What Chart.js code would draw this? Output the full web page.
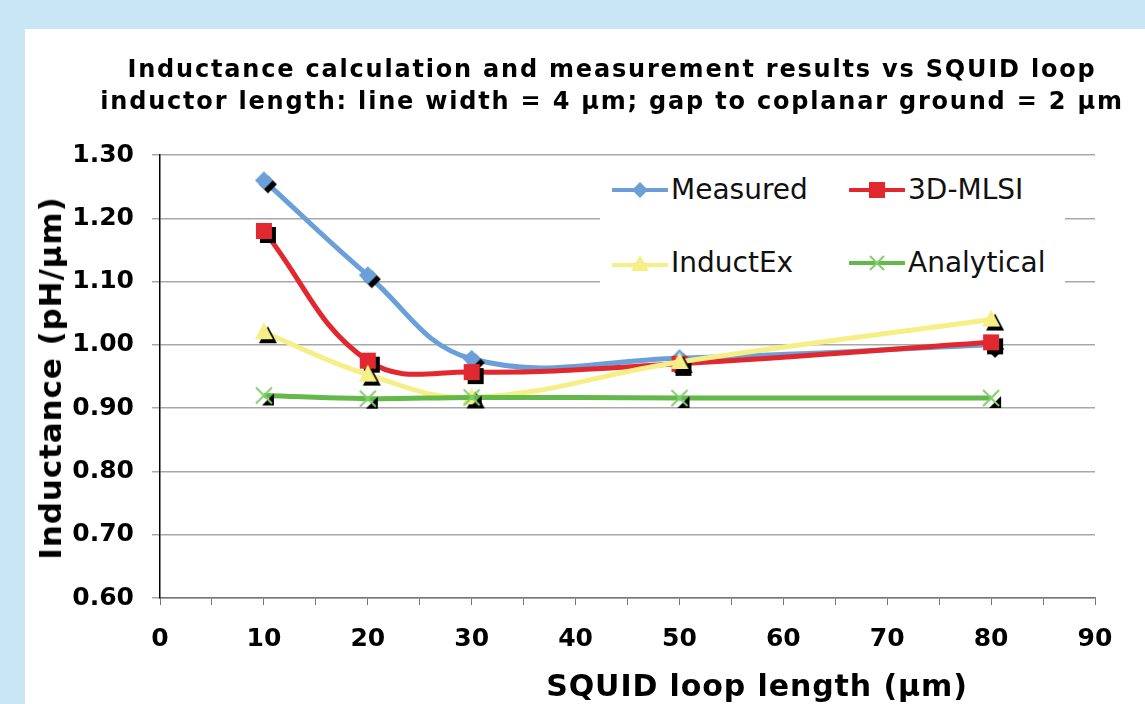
<!DOCTYPE html>
<html>
<head>
<meta charset="utf-8">
<script src="https://cdn.jsdelivr.net/npm/chart.js@4.4.1/dist/chart.umd.min.js"></script>
<style>
  html, body { margin: 0; padding: 0; }
  body { width: 1145px; height: 704px; background: #c8e6f3; position: relative; overflow: hidden; font-family: "DejaVu Sans", Verdana, sans-serif; }
  .panel { position: absolute; left: 25px; top: 29px; right: 0; bottom: 0; background: #fff; }
  #chart { position: absolute; left: 0; top: 0; }
  .title { position: absolute; left: 612px; top: 53px; transform: translateX(-50%); font-size: 24px; font-weight: bold; line-height: 32px; letter-spacing: 1.8px; text-align: center; white-space: nowrap; color: #000; }
  .legend { position: absolute; left: 600px; top: 165px; width: 465px; height: 125px; background: #fff; }
  .item { position: absolute; display: flex; align-items: center; font-size: 28px; color: #111; white-space: nowrap; }
  .item svg { margin-right: 3px; }
  .xtitle { position: absolute; left: 757px; top: 667px; transform: translateX(-50%); font-size: 30px; font-weight: bold; color: #000; line-height: 38px; letter-spacing: 0.9px; white-space: nowrap; }
  .ytitle { position: absolute; left: 50px; top: 378px; transform: translate(-50%, -50%) rotate(-90deg); font-size: 31px; font-weight: bold; color: #000; line-height: 38px; letter-spacing: 0.9px; white-space: nowrap; }
</style>
</head>
<body>
<div class="panel"></div>
<canvas id="chart" width="1145" height="704"></canvas>
<div class="title">Inductance calculation and measurement results vs SQUID loop<br>inductor length: line width = 4 µm; gap to coplanar ground = 2 µm</div>
<div class="legend">
  <div class="item" style="left:12px; top:8px;">
    <svg width="56" height="20"><line x1="1" y1="10" x2="55" y2="10" stroke="#6b9fd9" stroke-width="4" stroke-linecap="round"/><polygon points="28,2 36,10 28,18 20,10" fill="#6b9fd9"/></svg>Measured
  </div>
  <div class="item" style="left:249px; top:8px;">
    <svg width="56" height="20"><line x1="1" y1="10" x2="55" y2="10" stroke="#e1282e" stroke-width="4" stroke-linecap="round"/><rect x="20" y="2" width="16" height="16" fill="#e1282e"/></svg>3D-MLSI
  </div>
  <div class="item" style="left:12px; top:81px;">
    <svg width="56" height="20"><line x1="1" y1="12" x2="55" y2="12" stroke="#f6ef86" stroke-width="4" stroke-linecap="round"/><polygon points="28,2 37,18 19,18" fill="#f6ef86"/></svg>InductEx
  </div>
  <div class="item" style="left:249px; top:81px;">
    <svg width="56" height="20"><line x1="1" y1="10" x2="55" y2="10" stroke="#62b849" stroke-width="4" stroke-linecap="round"/><path d="M21 3 L35 17 M35 3 L21 17" stroke="#7fd06a" stroke-width="2"/></svg>Analytical
  </div>
</div>
<div class="xtitle">SQUID loop length (µm)</div>
<div class="ytitle">Inductance (pH/µm)</div>
<script>
document.addEventListener("DOMContentLoaded", () => {

  const loopLength = [10, 20, 30, 50, 80];
  const measured = [1.26, 1.11, 0.978, 0.979, 1.0];
  const mlsi = [1.18, 0.975, 0.957, 0.97, 1.004];
  const inductEx = [1.02, 0.953, 0.917, 0.973, 1.04];
  const analytical = [0.92, 0.915, 0.917, 0.916, 0.916];

  const yMin = 0.6, yMax = 1.3, yStep = 0.1;
  const xMin = 0, xMax = 90;

  const font = "'DejaVu Sans', Verdana, sans-serif";

  // marker with the dark offset "shadow" seen in the original
  function makeMarker(shape, color) {
    const c = document.createElement("canvas");
    c.width = 36; c.height = 36;
    const ctx = c.getContext("2d");
    const draw = (cx, cy, fill, isShadow) => {
      ctx.fillStyle = fill;
      ctx.strokeStyle = fill;
      ctx.beginPath();
      if (shape === "diamond") {
        ctx.moveTo(cx, cy - 9); ctx.lineTo(cx + 9, cy); ctx.lineTo(cx, cy + 9); ctx.lineTo(cx - 9, cy);
        ctx.closePath(); ctx.fill();
      } else if (shape === "square") {
        ctx.rect(cx - 8, cy - 8, 16, 16); ctx.fill();
      } else if (shape === "triangle") {
        ctx.moveTo(cx, cy - 10); ctx.lineTo(cx + 9, cy + 7); ctx.lineTo(cx - 9, cy + 7);
        ctx.closePath(); ctx.fill();
      } else if (isShadow) {
        ctx.moveTo(cx + 6, cy - 6); ctx.lineTo(cx + 6, cy + 6); ctx.lineTo(cx - 6, cy + 6);
        ctx.closePath(); ctx.fill();
      } else {
        ctx.lineWidth = 2;
        ctx.moveTo(cx - 8, cy - 8); ctx.lineTo(cx + 8, cy + 8);
        ctx.moveTo(cx + 8, cy - 8); ctx.lineTo(cx - 8, cy + 8);
        ctx.stroke();
      }
    };
    draw(22, 22, "#000", true);
    draw(18, 18, color, false);
    return c;
  }

  const toPoints = (ys) => loopLength.map((x, i) => ({ x: x, y: ys[i] }));

  new Chart(document.getElementById("chart"), {
    type: "line",
    data: {
      datasets: [
        {
          label: "Measured",
          data: toPoints(measured),
          borderColor: "#6b9fd9",
          borderWidth: 5,
          pointStyle: makeMarker("diamond", "#6b9fd9"),
          tension: 0.4,
          order: 4
        },
        {
          label: "3D-MLSI",
          data: toPoints(mlsi),
          borderColor: "#e1282e",
          borderWidth: 5,
          pointStyle: makeMarker("square", "#e1282e"),
          tension: 0.4,
          order: 3
        },
        {
          label: "InductEx",
          data: toPoints(inductEx),
          borderColor: "#f6ef86",
          borderWidth: 5,
          pointStyle: makeMarker("triangle", "#f6ef86"),
          tension: 0.4,
          order: 2
        },
        {
          label: "Analytical",
          data: toPoints(analytical),
          borderColor: "#62b849",
          borderWidth: 5,
          pointStyle: makeMarker("cross", "#7fd06a"),
          tension: 0.4,
          order: 1
        }
      ]
    },
    options: {
      responsive: false,
      animation: false,
      layout: { padding: { left: 0, right: 50, top: 155, bottom: 0 } },
      plugins: {
        legend: { display: false },
        tooltip: { enabled: false },
        title: { display: false }
      },
      scales: {
        x: {
          type: "linear",
          min: xMin,
          max: xMax,
          afterFit: (s) => { s.height = 106; },
          ticks: {
            stepSize: 5,
            autoSkip: false,
            maxRotation: 0,
            color: "#000",
            padding: 19,
            font: { family: font, size: 25, weight: "bold" },
            callback: (v) => (v % 10 === 0 ? v : "")
          },
          grid: {
            drawOnChartArea: false,
            drawTicks: true,
            tickLength: 7,
            tickColor: "#777",
            tickWidth: 1
          },
          border: { color: "#777", width: 1.5 }
        },
        y: {
          min: yMin,
          max: yMax,
          afterFit: (s) => { s.width = 160; },
          ticks: {
            stepSize: yStep,
            color: "#000",
            padding: 18,
            font: { family: font, size: 25, weight: "bold" },
            callback: (v) => v.toFixed(2)
          },
          grid: {
            color: "#a8a8a8",
            lineWidth: 1.5,
            tickLength: 8,
            tickColor: "#a8a8a8"
          },
          border: { color: "#000", width: 1.5 }
        }
      }
    }
  });

});
</script>
</body>
</html>
